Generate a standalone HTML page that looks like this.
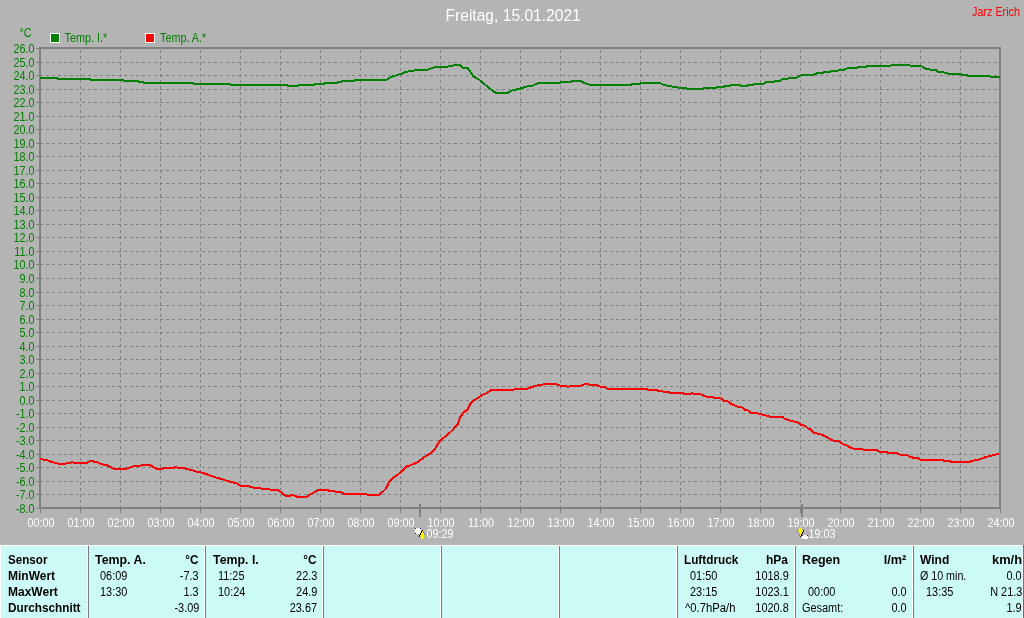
<!DOCTYPE html>
<html><head><meta charset="utf-8"><title>Freitag, 15.01.2021</title>
<style>
html,body{margin:0;padding:0}
body{width:1024px;height:618px;overflow:hidden;background:#b4b4b4;position:relative;font-family:"Liberation Sans",sans-serif;font-size:12px}
svg{position:absolute;left:0;top:0}
svg text{font-family:"Liberation Sans",sans-serif;font-size:12px}
svg line,svg rect{shape-rendering:crispEdges}
#tb{position:absolute;left:0;top:545px;width:1022px;height:73px;background:#ccfaf7;border-top:1px solid #fff;border-left:1px solid #fff;box-sizing:border-box}
#re{position:absolute;left:1022px;top:545px;width:1px;height:73px;background:#f4ffff}
#rd{position:absolute;left:1023px;top:545px;width:1px;height:73px;background:#707070}
.sep{position:absolute;top:546px;width:1px;height:72px;background:#fff;border-right:1px solid #7c7c7c}
.t{position:absolute;white-space:nowrap;line-height:16px;height:16px;color:#000}
.b{font-weight:bold}
</style></head><body>
<svg width="1024" height="545" viewBox="0 0 1024 545">
<line x1="40" x2="999" y1="62.5" y2="62.5" stroke="#808080" stroke-dasharray="3 3"/>
<line x1="40" x2="999" y1="75.5" y2="75.5" stroke="#808080" stroke-dasharray="3 3"/>
<line x1="40" x2="999" y1="89.5" y2="89.5" stroke="#808080" stroke-dasharray="3 3"/>
<line x1="40" x2="999" y1="102.5" y2="102.5" stroke="#808080" stroke-dasharray="3 3"/>
<line x1="40" x2="999" y1="116.5" y2="116.5" stroke="#808080" stroke-dasharray="3 3"/>
<line x1="40" x2="999" y1="129.5" y2="129.5" stroke="#808080" stroke-dasharray="3 3"/>
<line x1="40" x2="999" y1="143.5" y2="143.5" stroke="#808080" stroke-dasharray="3 3"/>
<line x1="40" x2="999" y1="156.5" y2="156.5" stroke="#808080" stroke-dasharray="3 3"/>
<line x1="40" x2="999" y1="170.5" y2="170.5" stroke="#808080" stroke-dasharray="3 3"/>
<line x1="40" x2="999" y1="183.5" y2="183.5" stroke="#808080" stroke-dasharray="3 3"/>
<line x1="40" x2="999" y1="197.5" y2="197.5" stroke="#808080" stroke-dasharray="3 3"/>
<line x1="40" x2="999" y1="210.5" y2="210.5" stroke="#808080" stroke-dasharray="3 3"/>
<line x1="40" x2="999" y1="224.5" y2="224.5" stroke="#808080" stroke-dasharray="3 3"/>
<line x1="40" x2="999" y1="237.5" y2="237.5" stroke="#808080" stroke-dasharray="3 3"/>
<line x1="40" x2="999" y1="251.5" y2="251.5" stroke="#808080" stroke-dasharray="3 3"/>
<line x1="40" x2="999" y1="264.5" y2="264.5" stroke="#808080" stroke-dasharray="3 3"/>
<line x1="40" x2="999" y1="278.5" y2="278.5" stroke="#808080" stroke-dasharray="3 3"/>
<line x1="40" x2="999" y1="292.5" y2="292.5" stroke="#808080" stroke-dasharray="3 3"/>
<line x1="40" x2="999" y1="305.5" y2="305.5" stroke="#808080" stroke-dasharray="3 3"/>
<line x1="40" x2="999" y1="319.5" y2="319.5" stroke="#808080" stroke-dasharray="3 3"/>
<line x1="40" x2="999" y1="332.5" y2="332.5" stroke="#808080" stroke-dasharray="3 3"/>
<line x1="40" x2="999" y1="346.5" y2="346.5" stroke="#808080" stroke-dasharray="3 3"/>
<line x1="40" x2="999" y1="359.5" y2="359.5" stroke="#808080" stroke-dasharray="3 3"/>
<line x1="40" x2="999" y1="373.5" y2="373.5" stroke="#808080" stroke-dasharray="3 3"/>
<line x1="40" x2="999" y1="386.5" y2="386.5" stroke="#808080" stroke-dasharray="3 3"/>
<line x1="40" x2="999" y1="400.5" y2="400.5" stroke="#808080" stroke-dasharray="3 3"/>
<line x1="40" x2="999" y1="413.5" y2="413.5" stroke="#808080" stroke-dasharray="3 3"/>
<line x1="40" x2="999" y1="427.5" y2="427.5" stroke="#808080" stroke-dasharray="3 3"/>
<line x1="40" x2="999" y1="440.5" y2="440.5" stroke="#808080" stroke-dasharray="3 3"/>
<line x1="40" x2="999" y1="454.5" y2="454.5" stroke="#808080" stroke-dasharray="3 3"/>
<line x1="40" x2="999" y1="467.5" y2="467.5" stroke="#808080" stroke-dasharray="3 3"/>
<line x1="40" x2="999" y1="481.5" y2="481.5" stroke="#808080" stroke-dasharray="3 3"/>
<line x1="40" x2="999" y1="494.5" y2="494.5" stroke="#808080" stroke-dasharray="3 3"/>
<line x1="36" x2="40" y1="48.5" y2="48.5" stroke="#808080"/>
<text transform="translate(34.5,53) scale(0.9,1)" text-anchor="end" fill="#008000">26.0</text>
<line x1="36" x2="40" y1="62.5" y2="62.5" stroke="#808080"/>
<text transform="translate(34.5,67) scale(0.9,1)" text-anchor="end" fill="#008000">25.0</text>
<line x1="36" x2="40" y1="75.5" y2="75.5" stroke="#808080"/>
<text transform="translate(34.5,80) scale(0.9,1)" text-anchor="end" fill="#008000">24.0</text>
<line x1="36" x2="40" y1="89.5" y2="89.5" stroke="#808080"/>
<text transform="translate(34.5,94) scale(0.9,1)" text-anchor="end" fill="#008000">23.0</text>
<line x1="36" x2="40" y1="102.5" y2="102.5" stroke="#808080"/>
<text transform="translate(34.5,107) scale(0.9,1)" text-anchor="end" fill="#008000">22.0</text>
<line x1="36" x2="40" y1="116.5" y2="116.5" stroke="#808080"/>
<text transform="translate(34.5,121) scale(0.9,1)" text-anchor="end" fill="#008000">21.0</text>
<line x1="36" x2="40" y1="129.5" y2="129.5" stroke="#808080"/>
<text transform="translate(34.5,134) scale(0.9,1)" text-anchor="end" fill="#008000">20.0</text>
<line x1="36" x2="40" y1="143.5" y2="143.5" stroke="#808080"/>
<text transform="translate(34.5,148) scale(0.9,1)" text-anchor="end" fill="#008000">19.0</text>
<line x1="36" x2="40" y1="156.5" y2="156.5" stroke="#808080"/>
<text transform="translate(34.5,161) scale(0.9,1)" text-anchor="end" fill="#008000">18.0</text>
<line x1="36" x2="40" y1="170.5" y2="170.5" stroke="#808080"/>
<text transform="translate(34.5,175) scale(0.9,1)" text-anchor="end" fill="#008000">17.0</text>
<line x1="36" x2="40" y1="183.5" y2="183.5" stroke="#808080"/>
<text transform="translate(34.5,188) scale(0.9,1)" text-anchor="end" fill="#008000">16.0</text>
<line x1="36" x2="40" y1="197.5" y2="197.5" stroke="#808080"/>
<text transform="translate(34.5,202) scale(0.9,1)" text-anchor="end" fill="#008000">15.0</text>
<line x1="36" x2="40" y1="210.5" y2="210.5" stroke="#808080"/>
<text transform="translate(34.5,215) scale(0.9,1)" text-anchor="end" fill="#008000">14.0</text>
<line x1="36" x2="40" y1="224.5" y2="224.5" stroke="#808080"/>
<text transform="translate(34.5,229) scale(0.9,1)" text-anchor="end" fill="#008000">13.0</text>
<line x1="36" x2="40" y1="237.5" y2="237.5" stroke="#808080"/>
<text transform="translate(34.5,242) scale(0.9,1)" text-anchor="end" fill="#008000">12.0</text>
<line x1="36" x2="40" y1="251.5" y2="251.5" stroke="#808080"/>
<text transform="translate(34.5,256) scale(0.9,1)" text-anchor="end" fill="#008000">11.0</text>
<line x1="36" x2="40" y1="264.5" y2="264.5" stroke="#808080"/>
<text transform="translate(34.5,269) scale(0.9,1)" text-anchor="end" fill="#008000">10.0</text>
<line x1="36" x2="40" y1="278.5" y2="278.5" stroke="#808080"/>
<text transform="translate(34.5,283) scale(0.9,1)" text-anchor="end" fill="#008000">9.0</text>
<line x1="36" x2="40" y1="292.5" y2="292.5" stroke="#808080"/>
<text transform="translate(34.5,297) scale(0.9,1)" text-anchor="end" fill="#008000">8.0</text>
<line x1="36" x2="40" y1="305.5" y2="305.5" stroke="#808080"/>
<text transform="translate(34.5,310) scale(0.9,1)" text-anchor="end" fill="#008000">7.0</text>
<line x1="36" x2="40" y1="319.5" y2="319.5" stroke="#808080"/>
<text transform="translate(34.5,324) scale(0.9,1)" text-anchor="end" fill="#008000">6.0</text>
<line x1="36" x2="40" y1="332.5" y2="332.5" stroke="#808080"/>
<text transform="translate(34.5,337) scale(0.9,1)" text-anchor="end" fill="#008000">5.0</text>
<line x1="36" x2="40" y1="346.5" y2="346.5" stroke="#808080"/>
<text transform="translate(34.5,351) scale(0.9,1)" text-anchor="end" fill="#008000">4.0</text>
<line x1="36" x2="40" y1="359.5" y2="359.5" stroke="#808080"/>
<text transform="translate(34.5,364) scale(0.9,1)" text-anchor="end" fill="#008000">3.0</text>
<line x1="36" x2="40" y1="373.5" y2="373.5" stroke="#808080"/>
<text transform="translate(34.5,378) scale(0.9,1)" text-anchor="end" fill="#008000">2.0</text>
<line x1="36" x2="40" y1="386.5" y2="386.5" stroke="#808080"/>
<text transform="translate(34.5,391) scale(0.9,1)" text-anchor="end" fill="#008000">1.0</text>
<line x1="36" x2="40" y1="400.5" y2="400.5" stroke="#808080"/>
<text transform="translate(34.5,405) scale(0.9,1)" text-anchor="end" fill="#008000">0.0</text>
<line x1="36" x2="40" y1="413.5" y2="413.5" stroke="#808080"/>
<text transform="translate(34.5,418) scale(0.9,1)" text-anchor="end" fill="#008000">-1.0</text>
<line x1="36" x2="40" y1="427.5" y2="427.5" stroke="#808080"/>
<text transform="translate(34.5,432) scale(0.9,1)" text-anchor="end" fill="#008000">-2.0</text>
<line x1="36" x2="40" y1="440.5" y2="440.5" stroke="#808080"/>
<text transform="translate(34.5,445) scale(0.9,1)" text-anchor="end" fill="#008000">-3.0</text>
<line x1="36" x2="40" y1="454.5" y2="454.5" stroke="#808080"/>
<text transform="translate(34.5,459) scale(0.9,1)" text-anchor="end" fill="#008000">-4.0</text>
<line x1="36" x2="40" y1="467.5" y2="467.5" stroke="#808080"/>
<text transform="translate(34.5,472) scale(0.9,1)" text-anchor="end" fill="#008000">-5.0</text>
<line x1="36" x2="40" y1="481.5" y2="481.5" stroke="#808080"/>
<text transform="translate(34.5,486) scale(0.9,1)" text-anchor="end" fill="#008000">-6.0</text>
<line x1="36" x2="40" y1="494.5" y2="494.5" stroke="#808080"/>
<text transform="translate(34.5,499) scale(0.9,1)" text-anchor="end" fill="#008000">-7.0</text>
<line x1="36" x2="40" y1="508.5" y2="508.5" stroke="#808080"/>
<text transform="translate(34.5,513) scale(0.9,1)" text-anchor="end" fill="#008000">-8.0</text>
<line x1="80.5" x2="80.5" y1="50" y2="507" stroke="#808080" stroke-dasharray="3 3"/>
<rect x="80" y="509" width="1" height="4" fill="#808080"/>
<line x1="120.5" x2="120.5" y1="50" y2="507" stroke="#808080" stroke-dasharray="3 3"/>
<rect x="120" y="509" width="1" height="4" fill="#808080"/>
<line x1="160.5" x2="160.5" y1="50" y2="507" stroke="#808080" stroke-dasharray="3 3"/>
<rect x="160" y="509" width="1" height="4" fill="#808080"/>
<line x1="200.5" x2="200.5" y1="50" y2="507" stroke="#808080" stroke-dasharray="3 3"/>
<rect x="200" y="509" width="1" height="4" fill="#808080"/>
<line x1="240.5" x2="240.5" y1="50" y2="507" stroke="#808080" stroke-dasharray="3 3"/>
<rect x="240" y="509" width="1" height="4" fill="#808080"/>
<line x1="280.5" x2="280.5" y1="50" y2="507" stroke="#808080" stroke-dasharray="3 3"/>
<rect x="280" y="509" width="1" height="4" fill="#808080"/>
<line x1="320.5" x2="320.5" y1="50" y2="507" stroke="#808080" stroke-dasharray="3 3"/>
<rect x="320" y="509" width="1" height="4" fill="#808080"/>
<line x1="360.5" x2="360.5" y1="50" y2="507" stroke="#808080" stroke-dasharray="3 3"/>
<rect x="360" y="509" width="1" height="4" fill="#808080"/>
<line x1="400.5" x2="400.5" y1="50" y2="507" stroke="#808080" stroke-dasharray="3 3"/>
<rect x="400" y="509" width="1" height="4" fill="#808080"/>
<line x1="440.5" x2="440.5" y1="50" y2="507" stroke="#808080" stroke-dasharray="3 3"/>
<rect x="440" y="509" width="1" height="4" fill="#808080"/>
<line x1="480.5" x2="480.5" y1="50" y2="507" stroke="#808080" stroke-dasharray="3 3"/>
<rect x="480" y="509" width="1" height="4" fill="#808080"/>
<line x1="520.5" x2="520.5" y1="50" y2="507" stroke="#808080" stroke-dasharray="3 3"/>
<rect x="520" y="509" width="1" height="4" fill="#808080"/>
<line x1="560.5" x2="560.5" y1="50" y2="507" stroke="#808080" stroke-dasharray="3 3"/>
<rect x="560" y="509" width="1" height="4" fill="#808080"/>
<line x1="600.5" x2="600.5" y1="50" y2="507" stroke="#808080" stroke-dasharray="3 3"/>
<rect x="600" y="509" width="1" height="4" fill="#808080"/>
<line x1="640.5" x2="640.5" y1="50" y2="507" stroke="#808080" stroke-dasharray="3 3"/>
<rect x="640" y="509" width="1" height="4" fill="#808080"/>
<line x1="680.5" x2="680.5" y1="50" y2="507" stroke="#808080" stroke-dasharray="3 3"/>
<rect x="680" y="509" width="1" height="4" fill="#808080"/>
<line x1="720.5" x2="720.5" y1="50" y2="507" stroke="#808080" stroke-dasharray="3 3"/>
<rect x="720" y="509" width="1" height="4" fill="#808080"/>
<line x1="760.5" x2="760.5" y1="50" y2="507" stroke="#808080" stroke-dasharray="3 3"/>
<rect x="760" y="509" width="1" height="4" fill="#808080"/>
<line x1="800.5" x2="800.5" y1="50" y2="507" stroke="#808080" stroke-dasharray="3 3"/>
<rect x="800" y="509" width="1" height="4" fill="#808080"/>
<line x1="840.5" x2="840.5" y1="50" y2="507" stroke="#808080" stroke-dasharray="3 3"/>
<rect x="840" y="509" width="1" height="4" fill="#808080"/>
<line x1="880.5" x2="880.5" y1="50" y2="507" stroke="#808080" stroke-dasharray="3 3"/>
<rect x="880" y="509" width="1" height="4" fill="#808080"/>
<line x1="920.5" x2="920.5" y1="50" y2="507" stroke="#808080" stroke-dasharray="3 3"/>
<rect x="920" y="509" width="1" height="4" fill="#808080"/>
<line x1="960.5" x2="960.5" y1="50" y2="507" stroke="#808080" stroke-dasharray="3 3"/>
<rect x="960" y="509" width="1" height="4" fill="#808080"/>
<rect x="40" y="509" width="1" height="4" fill="#808080"/>
<rect x="1000" y="509" width="1" height="4" fill="#808080"/>
<rect x="39" y="47" width="2" height="462" fill="#808080"/>
<rect x="39" y="47" width="962" height="2" fill="#808080"/>
<rect x="999" y="47" width="2" height="462" fill="#808080"/>
<rect x="39" y="507" width="962" height="2" fill="#808080"/>
<rect x="419" y="504" width="2" height="13" fill="#808080"/>
<rect x="801" y="504" width="2" height="13" fill="#808080"/>
<text transform="translate(41,527) scale(0.9,1)" text-anchor="middle" fill="#fff">00:00</text>
<text transform="translate(81,527) scale(0.9,1)" text-anchor="middle" fill="#fff">01:00</text>
<text transform="translate(121,527) scale(0.9,1)" text-anchor="middle" fill="#fff">02:00</text>
<text transform="translate(161,527) scale(0.9,1)" text-anchor="middle" fill="#fff">03:00</text>
<text transform="translate(201,527) scale(0.9,1)" text-anchor="middle" fill="#fff">04:00</text>
<text transform="translate(241,527) scale(0.9,1)" text-anchor="middle" fill="#fff">05:00</text>
<text transform="translate(281,527) scale(0.9,1)" text-anchor="middle" fill="#fff">06:00</text>
<text transform="translate(321,527) scale(0.9,1)" text-anchor="middle" fill="#fff">07:00</text>
<text transform="translate(361,527) scale(0.9,1)" text-anchor="middle" fill="#fff">08:00</text>
<text transform="translate(401,527) scale(0.9,1)" text-anchor="middle" fill="#fff">09:00</text>
<text transform="translate(441,527) scale(0.9,1)" text-anchor="middle" fill="#fff">10:00</text>
<text transform="translate(481,527) scale(0.9,1)" text-anchor="middle" fill="#fff">11:00</text>
<text transform="translate(521,527) scale(0.9,1)" text-anchor="middle" fill="#fff">12:00</text>
<text transform="translate(561,527) scale(0.9,1)" text-anchor="middle" fill="#fff">13:00</text>
<text transform="translate(601,527) scale(0.9,1)" text-anchor="middle" fill="#fff">14:00</text>
<text transform="translate(641,527) scale(0.9,1)" text-anchor="middle" fill="#fff">15:00</text>
<text transform="translate(681,527) scale(0.9,1)" text-anchor="middle" fill="#fff">16:00</text>
<text transform="translate(721,527) scale(0.9,1)" text-anchor="middle" fill="#fff">17:00</text>
<text transform="translate(761,527) scale(0.9,1)" text-anchor="middle" fill="#fff">18:00</text>
<text transform="translate(801,527) scale(0.9,1)" text-anchor="middle" fill="#fff">19:00</text>
<text transform="translate(841,527) scale(0.9,1)" text-anchor="middle" fill="#fff">20:00</text>
<text transform="translate(881,527) scale(0.9,1)" text-anchor="middle" fill="#fff">21:00</text>
<text transform="translate(921,527) scale(0.9,1)" text-anchor="middle" fill="#fff">22:00</text>
<text transform="translate(961,527) scale(0.9,1)" text-anchor="middle" fill="#fff">23:00</text>
<text transform="translate(1001,527) scale(0.9,1)" text-anchor="middle" fill="#fff">24:00</text>
<polyline points="40,78 57,78 57.5,78.9 90,78.9 90.5,79.8 123,79.8 123.5,80.8 138,80.8 138.5,81.9 143,81.9 143.5,83 193,83 193.5,83.9 230,83.9 230.5,84.8 287,84.8 287.5,85.8 298,85.8 298.5,84.8 314,84.8 314.5,83.9 324,83.9 324.5,83 337,83 337.5,81.9 341,81.9 341.5,80.8 354,80.8 354.5,79.8 386.5,79.75 390.5,77.1 400.6,74 407,71.6 419.4,69.75 427,69.75 437.3,66.6 447.5,66.6 455.3,65.1 459.7,65.1 463,67.7 467.5,67.7 473.3,76.3 478.75,79.4 485,84.6 494.4,92.25 498.3,93.2 507,93.2 511.5,90.7 520,88.7 526,86.6 533,85.5 538.4,83 560.6,83 561.4,81.9 570.8,81.9 572.3,80.8 580,80.8 582.5,82.2 589.5,84.7 631,84.7 631.7,83.9 640.3,83.9 641.5,83 659.8,83 663.75,84.7 672.3,86.6 680,87.8 686,87.8 687,88.9 703.4,88.9 704.7,87.8 716,87.8 717.5,86.9 723.75,86.9 725,85.8 730,85.8 730.8,84.7 740,84.7 741,85.8 747,85.8 748.75,84.7 753.4,84.7 754.7,83.75 763.6,83.75 765,82.7 767.5,81.9 773.75,81.9 775,80.8 780,80.8 781.25,79.7 784,78.75 787.8,78.75 789,77.7 796.4,77.7 800.3,75.6 804.2,74.8 813.6,74.8 818.3,72.8 823.75,72.8 824.5,71.7 830,71.7 830.8,70.6 837.8,70.6 840,69.8 844,69.8 847.8,68 857,68 858.75,66.7 866.5,66.7 868,65.6 890.8,65.6 892.3,64.8 908.75,64.8 910,65.6 920.5,65.6 925,68.4 930,69.5 935.3,69.8 938.4,71.9 943,71.9 944.7,73 949.4,73.75 960.3,73.75 961.9,74.7 966.5,75 968,75.8 990,75.8 991.25,76.9 1000,76.9" fill="none" stroke="#008000" stroke-width="2" stroke-linejoin="round" shape-rendering="crispEdges"/>
<polyline points="40,459.1 47,460.2 52.5,462.2 58.75,463.75 65.8,463.75 67.3,462.8 70.5,462.8 72,461.7 73.6,462.8 86.9,462.8 88.4,461.7 92.3,460.6 94,461.7 97,462.2 102.5,464.4 108,465.6 113.4,468.75 126,468.75 130.6,467.2 135.3,465.9 140,465.9 142.3,465 150,465 153.3,467.2 157.2,468.75 162.7,468.75 164.2,468 173.6,468 175,466.9 177.5,467.7 183,468 186.9,469 192.3,470.3 197,471.9 200,472.2 206.25,474 212.5,476.4 220.3,478.75 228,481.1 236.7,483.4 240.6,485.8 246.9,485.8 254,487.8 260,487.8 261.7,488.9 268.75,488.9 270.3,489.7 277.3,489.7 280.5,491.7 283.6,494.8 286.7,495.9 289.8,495.9 292.2,494.8 297.7,497 306.25,497 309.4,494.8 314.8,492 318.75,489.7 326.6,489.7 328.9,490.8 333.6,490.8 335.2,491.7 339.8,491.7 343.75,493.75 360,494 365.8,494 369.5,495.4 376.75,495.4 379.7,494.6 386.2,488.4 389.1,481.9 393.5,477.2 397.1,475.3 402.2,470.7 406.6,466.3 410.2,465.4 418.25,461.9 423.3,457.6 431.4,452.8 434.3,449.9 440.1,440.4 445.9,436.3 453.2,429.5 455.6,426.25 458,423.9 460.3,416.9 464.2,411.9 467.3,409.8 470.5,403.6 473.6,400.5 478.3,397.8 482.2,394.7 486.1,393.4 491.6,389.8 513.4,389.8 515,389.1 526.7,389.1 529,388 532.2,386.9 537.7,385.2 543.9,384.4 556.4,384.4 561.1,385.9 565,385.9 567.8,386.9 570.5,385.9 579.8,385.9 584.5,384.4 588.4,384.4 590.8,385.2 597,385.2 600,386.6 604,386.9 607.8,389.1 646.9,389.1 648.4,390 657,390 658.6,391.1 662.5,391.1 664,392.2 668.75,392.2 670.3,393 682.8,393 684.4,393.9 690.6,393.9 692.2,393 693.75,393.9 700,393.9 703.9,395.8 707,396.9 712.5,396.9 714,398.1 720.3,398.1 724.2,400.9 727.3,400.9 731.25,404 737.5,406.7 742.2,407.5 744.5,409.8 747.7,410.3 750.8,412.7 757,412.7 758.6,414 760,414 764.7,415.2 771,416.9 782.7,416.9 784.2,418.75 791.25,420.8 798.3,422.7 801.4,425 805.3,425.8 808.4,428.9 810,428.9 813.9,432.8 821.7,434.7 827.2,437.2 831.9,440.3 839.7,441.7 842.8,444.2 846.7,445.3 849.8,447.3 853.75,448.9 862.3,448.9 863.9,450 877.2,450 879.5,451.9 886.6,451.9 888.9,453.1 896.7,453.1 900.6,454.7 907,454.7 909.4,456.7 913.5,457.8 917.6,458.1 920.5,459.9 942.8,459.9 943.9,461.1 949.8,461.1 951,462 969.1,462 973.2,460.7 979.7,459.3 984.4,457.5 990.2,456 993.75,455 999,453.8" fill="none" stroke="#ff0000" stroke-width="2" stroke-linejoin="round" shape-rendering="crispEdges"/>
<rect x="50.5" y="33.5" width="9" height="9" fill="#008000" stroke="#fff"/>
<text transform="translate(64.5,42) scale(0.9,1)" text-anchor="start" fill="#008000">Temp. I.*</text>
<rect x="145.5" y="33.5" width="9" height="9" fill="#ff0000" stroke="#fff"/>
<text transform="translate(160,42) scale(0.9,1)" text-anchor="start" fill="#008000">Temp. A.*</text>
<text transform="translate(19.5,37) scale(0.9,1)" text-anchor="start" fill="#008000">°C</text>
<text transform="translate(445.5,21) scale(0.975,1)" text-anchor="start" fill="#fff" style="font-size:16px">Freitag, 15.01.2021</text>
<text transform="translate(1020,16) scale(0.9,1)" text-anchor="end" fill="#ff0000">Jarz Erich</text>
<text transform="translate(426.5,538) scale(0.9,1)" text-anchor="start" fill="#fff">09:29</text>
<text transform="translate(808.5,538) scale(0.9,1)" text-anchor="start" fill="#fff">19:03</text>
<g shape-rendering="crispEdges"><rect x="415" y="528" width="6" height="6" fill="#fff"/><rect x="415" y="528" width="1" height="1" fill="#2424a4"/><rect x="420" y="528" width="1" height="1" fill="#2424a4"/><rect x="415" y="533" width="1" height="1" fill="#2424a4"/><rect x="422" y="531" width="1" height="2" fill="#fff000"/><rect x="421" y="533" width="3" height="2" fill="#fff000"/><rect x="420" y="535" width="5" height="2" fill="#fff000"/><rect x="421" y="537" width="3" height="2" fill="#fff000"/><rect x="422" y="530" width="1" height="1" fill="#000"/><rect x="421" y="531" width="1" height="2" fill="#000"/><rect x="420" y="533" width="1" height="2" fill="#000"/><rect x="419" y="535" width="1" height="2" fill="#000"/><rect x="423" y="531" width="1" height="2" fill="#7484dc"/><rect x="424" y="533" width="1" height="2" fill="#7484dc"/><rect x="425" y="535" width="1" height="2" fill="#7484dc"/><rect x="799" y="528" width="3" height="2" fill="#fff000"/><rect x="798" y="530" width="5" height="2" fill="#fff000"/><rect x="799" y="532" width="3" height="2" fill="#fff000"/><rect x="800" y="534" width="1" height="2" fill="#fff000"/><rect x="803" y="530" width="1" height="2" fill="#000"/><rect x="802" y="532" width="1" height="2" fill="#000"/><rect x="801" y="534" width="1" height="2" fill="#000"/><rect x="800" y="536" width="1" height="1" fill="#000"/><rect x="797" y="530" width="1" height="2" fill="#7484dc"/><rect x="798" y="532" width="1" height="2" fill="#7484dc"/><rect x="799" y="534" width="1" height="2" fill="#7484dc"/><rect x="802" y="535" width="6" height="4" fill="#fff"/><rect x="802" y="535" width="1" height="1" fill="#2424a4"/><rect x="807" y="535" width="1" height="1" fill="#2424a4"/></g>
</svg>
<div id="tb"></div><div id="re"></div><div id="rd"></div>
<i class="sep" style="left:87px"></i>
<i class="sep" style="left:204px"></i>
<i class="sep" style="left:322px"></i>
<i class="sep" style="left:440px"></i>
<i class="sep" style="left:558px"></i>
<i class="sep" style="left:676px"></i>
<i class="sep" style="left:794px"></i>
<i class="sep" style="left:912px"></i>
<span class="t b" style="left:8px;top:552px;transform:scaleX(0.97);transform-origin:0 0">Sensor</span>
<span class="t b" style="left:8px;top:568px;transform:scaleX(1.0);transform-origin:0 0">MinWert</span>
<span class="t b" style="left:8px;top:584px;transform:scaleX(1.0);transform-origin:0 0">MaxWert</span>
<span class="t b" style="left:8px;top:600px;transform:scaleX(0.98);transform-origin:0 0">Durchschnitt</span>
<span class="t b" style="left:95px;top:552px;transform:scaleX(1.03);transform-origin:0 0">Temp. A.</span>
<span class="t b" style="right:826px;top:552px;transform:scaleX(0.98);transform-origin:100% 0">°C</span>
<span class="t " style="left:100px;top:568px;transform:scaleX(0.91);transform-origin:0 0">06:09</span>
<span class="t " style="right:825px;top:568px;transform:scaleX(0.91);transform-origin:100% 0">-7.3</span>
<span class="t " style="left:100px;top:584px;transform:scaleX(0.91);transform-origin:0 0">13:30</span>
<span class="t " style="right:825px;top:584px;transform:scaleX(0.91);transform-origin:100% 0">1.3</span>
<span class="t " style="right:825px;top:600px;transform:scaleX(0.91);transform-origin:100% 0">-3.09</span>
<span class="t b" style="left:213px;top:552px;transform:scaleX(1.03);transform-origin:0 0">Temp. I.</span>
<span class="t b" style="right:708px;top:552px;transform:scaleX(0.98);transform-origin:100% 0">°C</span>
<span class="t " style="left:218px;top:568px;transform:scaleX(0.91);transform-origin:0 0">11:25</span>
<span class="t " style="right:707px;top:568px;transform:scaleX(0.91);transform-origin:100% 0">22.3</span>
<span class="t " style="left:218px;top:584px;transform:scaleX(0.91);transform-origin:0 0">10:24</span>
<span class="t " style="right:707px;top:584px;transform:scaleX(0.91);transform-origin:100% 0">24.9</span>
<span class="t " style="right:707px;top:600px;transform:scaleX(0.91);transform-origin:100% 0">23.67</span>
<span class="t b" style="left:684px;top:552px;transform:scaleX(0.98);transform-origin:0 0">Luftdruck</span>
<span class="t b" style="right:236px;top:552px;transform:scaleX(1.0);transform-origin:100% 0">hPa</span>
<span class="t " style="left:690px;top:568px;transform:scaleX(0.91);transform-origin:0 0">01:50</span>
<span class="t " style="right:235px;top:568px;transform:scaleX(0.91);transform-origin:100% 0">1018.9</span>
<span class="t " style="left:690px;top:584px;transform:scaleX(0.91);transform-origin:0 0">23:15</span>
<span class="t " style="right:235px;top:584px;transform:scaleX(0.91);transform-origin:100% 0">1023.1</span>
<span class="t " style="left:685px;top:600px;transform:scaleX(0.94);transform-origin:0 0">^0.7hPa/h</span>
<span class="t " style="right:235px;top:600px;transform:scaleX(0.91);transform-origin:100% 0">1020.8</span>
<span class="t b" style="left:802px;top:552px;transform:scaleX(1.04);transform-origin:0 0">Regen</span>
<span class="t b" style="right:118px;top:552px;transform:scaleX(1.06);transform-origin:100% 0">l/m²</span>
<span class="t " style="left:808px;top:584px;transform:scaleX(0.91);transform-origin:0 0">00:00</span>
<span class="t " style="right:117px;top:584px;transform:scaleX(0.91);transform-origin:100% 0">0.0</span>
<span class="t " style="left:802px;top:600px;transform:scaleX(0.91);transform-origin:0 0">Gesamt:</span>
<span class="t " style="right:117px;top:600px;transform:scaleX(0.91);transform-origin:100% 0">0.0</span>
<span class="t b" style="left:920px;top:552px;transform:scaleX(1.0);transform-origin:0 0">Wind</span>
<span class="t b" style="right:2px;top:552px;transform:scaleX(1.07);transform-origin:100% 0">km/h</span>
<span class="t " style="left:920px;top:568px;transform:scaleX(0.89);transform-origin:0 0">Ø 10 min.</span>
<span class="t " style="right:2px;top:568px;transform:scaleX(0.91);transform-origin:100% 0">0.0</span>
<span class="t " style="left:926px;top:584px;transform:scaleX(0.91);transform-origin:0 0">13:35</span>
<span class="t " style="right:2px;top:584px;transform:scaleX(0.91);transform-origin:100% 0">N 21.3</span>
<span class="t " style="right:2px;top:600px;transform:scaleX(0.91);transform-origin:100% 0">1.9</span>
</body></html>
